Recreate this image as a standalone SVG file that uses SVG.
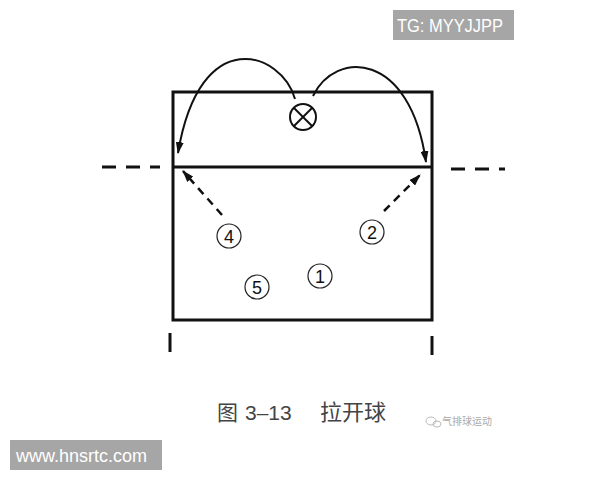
<svg xmlns="http://www.w3.org/2000/svg" width="600" height="480" viewBox="0 0 600 480">
<defs>
<marker id="ah" viewBox="0 0 12 8" refX="11" refY="4" markerWidth="12" markerHeight="8" markerUnits="userSpaceOnUse" orient="auto">
<path d="M0,0 L12,4 L0,8 Z" fill="#111"/>
</marker>
</defs>
<style>
.line{stroke:#111;stroke-width:3;fill:none}
.arc{stroke:#111;stroke-width:2;fill:none}
.dash{stroke:#111;stroke-width:2.5;fill:none;stroke-dasharray:8 6}
.pc{stroke:#222;stroke-width:1.2;fill:none}
.pn{font-family:"Liberation Sans",Arial,sans-serif;font-size:18px;fill:#111;text-anchor:middle}
.wm{font-family:"Liberation Sans",Arial,sans-serif;fill:#fff}
</style>
<rect width="600" height="480" fill="#fff"/>
<g id="court">
<rect x="173" y="92" width="259" height="228" class="line"/>
<line x1="173" y1="167" x2="432" y2="167" class="line"/>
<line x1="102" y1="167" x2="160" y2="167" class="line" stroke-dasharray="14 10"/>
<line x1="451" y1="169" x2="505" y2="169" class="line" stroke-dasharray="14 10"/>
<line x1="170" y1="333" x2="170" y2="352" class="line"/>
<line x1="432" y1="336" x2="432" y2="355" class="line"/>
</g>
<g id="server">
<circle cx="303" cy="117" r="13" class="arc"/>
<line x1="294" y1="108" x2="312" y2="126" class="arc"/>
<line x1="312" y1="108" x2="294" y2="126" class="arc"/>
</g>
<g id="p4"><circle cx="229" cy="236" r="12" class="pc"/><text x="229" y="242.5" class="pn">4</text></g>
<g id="p2"><circle cx="372" cy="232" r="12" class="pc"/><text x="372" y="238.5" class="pn">2</text></g>
<g id="p1"><circle cx="320" cy="276" r="12" class="pc"/><text x="320" y="282.5" class="pn">1</text></g>
<g id="p5"><circle cx="257" cy="287" r="12" class="pc"/><text x="257" y="293.5" class="pn">5</text></g>
<g id="connectors">
<path d="M295,99 C282,52 200,22 178,153" class="arc" marker-end="url(#ah)"/>
<path d="M313,96 C335,50 410,50 426,162" class="arc" marker-end="url(#ah)"/>
<path d="M222,215 L183,171" class="dash" marker-end="url(#ah)"/>
<path d="M384,211 L420,175" class="dash" marker-end="url(#ah)"/>
</g>
<g id="caption" fill="#444">
<text x="217" y="420" font-family="'Noto Sans CJK SC',sans-serif" font-size="21">图</text>
<text x="245" y="420" font-family="'Liberation Sans',Arial,sans-serif" font-size="21">3–13</text>
<text x="320" y="420" font-family="'Noto Sans CJK SC',sans-serif" font-size="22">拉开球</text>
</g>
<g id="source-mark">
<ellipse cx="431" cy="421" rx="5" ry="4" fill="none" stroke="#bbb" stroke-width="1"/>
<ellipse cx="437" cy="424" rx="4" ry="3" fill="none" stroke="#bbb" stroke-width="1"/>
<text x="442" y="425" font-family="'Noto Sans CJK SC',sans-serif" font-size="10" fill="#aaa">气排球运动</text>
</g>
<g id="watermarks">
<rect x="393" y="10" width="121" height="30" fill="#a6a6a6"/>
<text x="397" y="32" class="wm" font-size="18" textLength="106" lengthAdjust="spacingAndGlyphs">TG: MYYJJPP</text>
<rect x="10" y="440" width="152" height="30" fill="#a6a6a6"/>
<text x="16" y="462" class="wm" font-size="18">www.hnsrtc.com</text>
</g>
</svg>
